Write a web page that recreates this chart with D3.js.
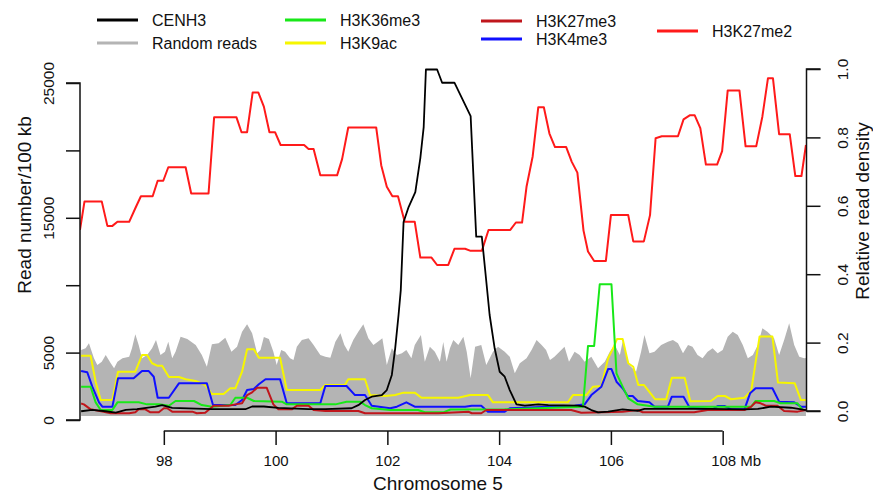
<!DOCTYPE html>
<html><head><meta charset="utf-8">
<script src="https://cdn.jsdelivr.net/npm/d3@7"></script>
<style>
body{margin:0;background:#fff;}
text{font-family:"Liberation Sans",Arial,Helvetica,sans-serif;fill:#111;}
</style></head>
<body><svg id="c" width="873" height="496"></svg>
<script>
// ---------- data (position in Mb, read number per 100 kb) ----------
const leftTicks = [0, 5000, 10000, 15000, 20000, 25000];
const leftTickLabels = ["0", "5000", "", "15000", "", "25000"];
const rightTicks = [0, 0.2, 0.4, 0.6, 0.8, 1.0];
const bottomTicks = [98, 100, 102, 104, 106, 108];

const k27me2Mb = [96.50,96.58,96.89,96.99,97.08,97.17,97.38,97.50,97.59,97.80,97.89,97.99,98.08,98.39,98.49,98.80,98.90,99.30,99.39,99.49,99.59,99.69,99.79,99.89,99.99,100.09,100.51,100.59,100.68,100.80,101.10,101.19,101.30,101.80,101.89,101.99,102.09,102.19,102.31,102.49,102.59,102.79,102.89,103.09,103.20,103.39,103.49,103.69,103.81,104.20,104.30,104.41,104.49,104.60,104.70,104.80,104.90,105.00,105.20,105.30,105.40,105.51,105.59,105.70,105.91,106.00,106.31,106.40,106.59,106.70,106.80,106.91,107.20,107.30,107.41,107.50,107.60,107.70,107.90,107.99,108.09,108.30,108.41,108.60,108.71,108.81,108.90,109.01,109.20,109.30,109.41,109.49];
const k27me2 = [14100,16200,16200,14400,14400,14700,14700,15800,16600,16600,17750,17750,18750,18750,16800,16800,22450,22450,21350,21350,24300,24300,23250,21350,21350,20400,20400,20100,20100,18150,18150,19350,21700,21700,18900,17300,16600,16600,14700,14700,12050,12050,11500,11500,12700,12700,12550,12550,14100,14100,14650,14650,17300,19550,23200,23200,21250,20250,20250,19150,18350,14050,12500,11800,11800,15200,15200,13250,13250,15200,20900,21050,21050,22300,22600,22600,21650,18950,18950,19950,24450,24450,20300,20300,22500,25350,25350,21200,21200,18100,18100,20400];

const cenh3Mb = [96.52,96.72,96.96,97.14,97.32,97.52,97.85,97.97,98.15,98.86,99.46,99.58,99.79,100.05,100.59,100.89,101.36,101.48,101.60,101.72,101.90,101.99,102.08,102.14,102.20,102.24,102.29,102.38,102.50,102.59,102.65,102.69,102.89,102.98,103.20,103.49,103.59,103.69,103.75,103.83,103.92,104.01,104.10,104.19,104.31,104.46,104.70,104.88,105.41,105.53,105.65,105.77,105.95,106.21,106.48,106.60,107.79,108.39,108.63,108.86,109.22,109.49];
const cenh3 = [650,750,650,550,750,800,1000,1100,900,800,800,1000,1000,900,800,800,870,1100,1480,1730,1850,2220,3340,5320,7790,9640,14690,15800,16910,19430,21730,26000,26000,25020,25020,22550,13600,13600,11130,7790,5320,3580,3210,2220,1160,1060,1160,1110,1060,990,740,570,620,790,670,820,820,790,820,990,910,740];

const k9acMb = [96.52,96.69,96.78,96.87,97.08,97.18,97.49,97.61,97.70,97.79,97.88,97.97,98.09,98.27,98.39,98.57,98.74,98.86,99.07,99.19,99.28,99.40,99.49,99.61,99.70,100.08,100.20,100.80,100.89,101.24,101.30,101.60,101.69,101.96,102.14,102.29,102.49,102.61,103.27,103.48,103.80,103.89,105.23,105.32,105.56,105.68,105.83,105.95,106.04,106.11,106.21,106.31,106.40,106.49,106.59,106.79,106.99,107.09,107.32,107.42,107.79,107.91,108.04,108.15,108.39,108.51,108.66,108.89,108.99,109.29,109.40,109.49];
const k9ac = [4770,4770,2840,1480,1480,3580,3580,4820,4820,4210,4030,4030,3190,3190,3020,2890,2600,1930,1930,2350,2350,3580,5250,5250,4620,4620,2220,2220,2600,2600,3020,3020,1850,1780,1850,2030,2030,1650,1650,1850,1850,1310,1310,1850,1850,2470,2520,4580,5320,6010,6010,4210,3950,2600,2600,1540,1540,3140,3140,1390,1410,1780,1780,1540,1650,2150,6190,6190,2780,2720,1480,1480];

const k4me3Mb = [96.52,96.63,96.72,96.84,96.90,97.08,97.18,97.46,97.61,97.73,97.82,97.89,98.09,98.27,98.77,98.88,99.28,99.40,99.49,99.61,99.70,99.82,100.08,100.20,100.80,100.89,101.27,101.42,101.60,101.72,102.05,102.17,102.34,102.49,103.39,103.51,103.68,103.80,104.10,104.19,105.35,105.53,105.65,105.83,105.95,106.01,106.10,106.21,106.30,106.39,106.48,106.69,106.78,107.02,107.09,107.30,107.41,107.82,107.91,108.03,108.15,108.39,108.49,108.59,108.89,109.01,109.28,109.40,109.49];
const k4me3 = [3630,3540,2470,1310,990,990,3090,3090,3630,3630,3210,1650,1650,2720,2720,1110,1110,1480,2220,2300,2650,3020,3020,1240,1240,2520,2520,1850,1850,1060,870,990,1310,990,990,1060,1060,620,620,870,1060,1160,1850,2470,3780,3780,2840,2350,1780,1780,1410,1310,990,990,1730,1730,910,790,1040,1040,790,790,1980,2350,2350,1360,1310,990,990];

const k36me3Mb = [96.52,96.69,96.78,96.87,97.08,97.17,97.55,97.70,97.91,98.09,98.21,98.54,98.68,98.86,99.19,99.28,99.49,99.61,100.11,100.20,101.07,101.27,101.51,101.60,101.72,102.05,102.55,102.67,103.00,103.13,104.10,105.50,105.59,105.70,105.80,106.01,106.10,106.21,106.31,106.48,106.78,108.51,108.59,108.92,109.04,109.34,109.43,109.49];
const k36me3 = [2470,2470,1310,740,740,1310,1310,1160,1160,1060,1410,1410,1110,990,1110,1650,1650,1410,1360,1160,1160,1360,1360,1110,870,740,740,570,570,780,790,990,5490,5490,10070,10070,3460,2470,1610,1160,990,990,1410,1410,1240,1240,740,740];

const k27me3Mb = [96.52,96.57,96.69,96.90,97.05,97.38,97.49,97.55,97.67,97.76,97.91,98.00,98.06,98.15,98.51,98.59,98.74,98.89,99.16,99.28,99.40,99.49,99.58,99.67,99.84,99.96,100.05,100.29,100.38,100.59,100.68,100.89,101.48,101.60,102.91,103.45,103.51,103.68,103.77,105.29,105.47,106.21,106.48,106.57,107.49,107.73,108.39,108.51,108.59,108.68,108.77,108.98,109.10,109.34,109.49];
const k27me3 = [1220,1160,790,620,500,500,570,790,790,570,570,870,870,620,620,500,540,1060,1060,1160,1240,1850,2050,2400,2400,1160,790,790,1060,1060,740,670,670,500,500,620,500,500,740,740,540,620,740,570,570,740,740,990,1310,1240,1060,1060,670,620,740];

const randomMb = [96.52,96.60,96.66,96.75,96.81,96.89,96.96,97.05,97.11,97.17,97.26,97.38,97.43,97.49,97.55,97.61,97.70,97.79,97.86,97.94,98.02,98.08,98.15,98.21,98.30,98.42,98.57,98.68,98.77,98.86,98.98,99.10,99.21,99.31,99.40,99.49,99.58,99.67,99.73,99.79,99.88,99.96,100.02,100.10,100.17,100.26,100.32,100.38,100.47,100.59,100.68,100.80,100.89,100.98,101.07,101.16,101.23,101.30,101.39,101.48,101.57,101.66,101.75,101.83,101.91,101.99,102.08,102.17,102.26,102.34,102.43,102.49,102.60,102.67,102.76,102.85,102.94,103.00,103.06,103.12,103.18,103.27,103.36,103.42,103.49,103.57,103.68,103.77,103.89,103.98,104.10,104.19,104.28,104.37,104.49,104.58,104.67,104.76,104.84,104.91,104.99,105.08,105.17,105.25,105.35,105.44,105.53,105.65,105.77,105.89,105.98,106.07,106.16,106.21,106.33,106.45,106.54,106.60,106.69,106.78,106.90,107.02,107.11,107.20,107.29,107.38,107.46,107.55,107.64,107.73,107.82,107.91,108.00,108.09,108.18,108.27,108.36,108.45,108.54,108.63,108.71,108.80,108.92,109.01,109.10,109.19,109.28,109.37,109.46,109.49];
const randomReads = [5190,5320,5690,4580,4080,4330,4820,4210,3840,4330,4580,4700,5320,6360,5560,4580,4820,5320,5930,4820,5070,5810,4580,5070,6180,6010,5560,4820,3950,5620,5690,6110,5070,5440,6550,7100,6430,4950,5190,6160,6010,5070,4080,5190,5070,4580,4450,5440,5930,6060,5560,4820,4700,4620,5810,6430,5560,5070,5930,6550,7100,6060,5560,5810,6060,4080,5320,4820,4950,5190,4580,5560,6310,4330,5440,5070,4330,5790,4330,5320,5930,5560,6180,5070,3090,5440,5560,4080,5070,5440,5070,4700,3460,4210,4580,5190,5930,5560,5190,4450,4700,5070,5440,4330,5070,4820,4330,4700,3840,4330,5070,5560,4820,5810,4080,3580,5070,6310,4950,5070,5560,5810,5930,5690,4950,5560,5440,4820,4580,5070,5320,4950,5190,6180,6550,6310,5560,4580,4820,5560,6800,6550,6060,4820,5930,7170,5560,4700,4580,4600];
const randomBase = 300;

const legendItems = [
  {label:"CENH3", color:"#000000", lx:97, ly:20},
  {label:"Random reads", color:"#b4b4b4", lx:97, ly:43},
  {label:"H3K36me3", color:"#18e818", lx:285, ly:20},
  {label:"H3K9ac", color:"#f6f600", lx:285, ly:43},
  {label:"H3K27me3", color:"#c0161c", lx:481, ly:21},
  {label:"H3K4me3", color:"#1010ff", lx:481, ly:39},
  {label:"H3K27me2", color:"#ff1a1a", lx:657, ly:31}
];

// ---------- drawing ----------
const svg = d3.select("#c");
const W = 873, H = 496;
svg.append("rect").attr("width", W).attr("height", H).attr("fill", "#fff");

const x = d3.scaleLinear().domain([96.5, 109.5]).range([80, 806.5]);
const yL = d3.scaleLinear().domain([0, 25000]).range([420, 83]);
const yR = d3.scaleLinear().domain([0, 1]).range([411, 69]);

svg.append("clipPath").attr("id", "pc")
  .append("rect").attr("x", 80).attr("y", 40).attr("width", 726.5).attr("height", 385);
const plot = svg.append("g").attr("clip-path", "url(#pc)");

// random reads (gray area)
const randomData = randomMb.map((m, i) => [m, randomReads[i]]);
plot.append("path").datum(randomData)
  .attr("fill", "#b4b4b4").attr("stroke", "none")
  .attr("d", d3.area().x(d => x(d[0])).y0(yL(randomBase)).y1(d => yL(d[1])));

const line = d3.line().x(d => x(d[0])).y(d => yL(d[1]));
function drawSeries(mb, vals, color, w) {
  plot.append("path").datum(mb.map((m, i) => [m, vals[i]]))
    .attr("fill", "none").attr("stroke", color).attr("stroke-width", w)
    .attr("stroke-linejoin", "round").attr("d", line);
}
drawSeries(k27me2Mb, k27me2, "#ff1a1a", 2);
drawSeries(k9acMb, k9ac, "#f6f600", 2);
drawSeries(k4me3Mb, k4me3, "#1010ff", 2);
drawSeries(k36me3Mb, k36me3, "#18e818", 2);
drawSeries(k27me3Mb, k27me3, "#c0161c", 2);
drawSeries(cenh3Mb, cenh3, "#000000", 1.8);

// left axis
const gL = svg.append("g").attr("transform", "translate(80,0)")
  .call(d3.axisLeft(yL).tickValues(leftTicks).tickSize(14)
    .tickFormat((d, i) => leftTickLabels[i]));
gL.select(".domain").attr("stroke", "#111").attr("stroke-width", 1.5).attr("d", `M-14,${yL(0)}H0V${yL(25000)}H-14`);
gL.selectAll(".tick line").attr("stroke", "#111").attr("stroke-width", 1.5);
gL.selectAll(".tick text").attr("font-size", 15.5).attr("fill", "#111")
  .attr("text-anchor", "middle").attr("x", null)
  .attr("transform", "translate(-24,0) rotate(-90)").attr("dy", "-0.1em");

// right axis
const gR = svg.append("g").attr("transform", "translate(806.5,0)")
  .call(d3.axisRight(yR).tickValues(rightTicks).tickSize(14).tickFormat(d3.format(".1f")));
gR.select(".domain").attr("stroke", "#111").attr("stroke-width", 1.5).attr("d", `M14,${yR(0)}H0V${yR(1)}H14`);
gR.selectAll(".tick line").attr("stroke", "#111").attr("stroke-width", 1.5);
gR.selectAll(".tick text").attr("font-size", 15.5).attr("fill", "#111")
  .attr("text-anchor", "middle").attr("x", null)
  .attr("transform", "translate(36,0) rotate(-90)").attr("dy", "0.35em");

// bottom axis
const gB = svg.append("g").attr("transform", "translate(0,431)")
  .call(d3.axisBottom(x).tickValues(bottomTicks).tickSize(14).tickFormat(d3.format("d")));
gB.select(".domain").attr("stroke", "#111").attr("stroke-width", 1.5)
  .attr("d", `M${x(98)},0H${x(108)}`);
gB.selectAll(".tick line").attr("stroke", "#111").attr("stroke-width", 1.5);
gB.selectAll(".tick text").attr("font-size", 15).attr("fill", "#111").attr("y", 24);
gB.selectAll(".tick text").filter(d => d === 108)
  .attr("text-anchor", "start").attr("x", -12).text("108 Mb");

// axis titles
svg.append("text").attr("transform", `translate(24,205) rotate(-90)`)
  .attr("text-anchor", "middle").attr("dy", "0.35em").attr("font-size", 19).text("Read number/100 kb");
svg.append("text").attr("transform", `translate(862,211) rotate(-90)`)
  .attr("text-anchor", "middle").attr("dy", "0.35em").attr("font-size", 19).text("Relative read density");
svg.append("text").attr("x", 438).attr("y", 483).attr("text-anchor", "middle")
  .attr("dy", "0.35em").attr("font-size", 19).text("Chromosome 5");

// legend
const lg = svg.append("g");
legendItems.forEach(it => {
  lg.append("line").attr("x1", it.lx).attr("x2", it.lx + 41).attr("y1", it.ly).attr("y2", it.ly)
    .attr("stroke", it.color).attr("stroke-width", 3);
  lg.append("text").attr("x", it.lx + 55).attr("y", it.ly).attr("dy", "0.35em")
    .attr("font-size", 16).text(it.label);
});
</script>
</body></html>
